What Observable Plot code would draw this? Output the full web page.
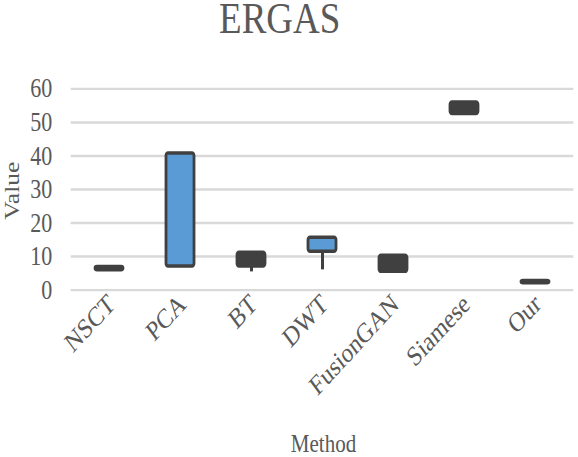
<!DOCTYPE html>
<html><head><meta charset="utf-8">
<script src="https://cdn.jsdelivr.net/npm/d3@7"></script>
<script src="https://cdn.jsdelivr.net/npm/@observablehq/plot@0.6"></script>
<style>
html,body{margin:0;padding:0;background:#fff;overflow:hidden}
#chart{width:578px;height:457px;overflow:hidden}
#chart svg{transform-origin:0 0;transform:scaleY(1.2187);display:block}
</style></head><body><div id="chart"></div>
<script>
const methods = ["NSCT","PCA","BT","DWT","FusionGAN","Siamese","Our"];
const openVals  = [6.9, 7.0, 11.1, 11.4, 10.2, 55.9, 2.7];
const closeVals = [5.9, 40.7, 7.0, 15.6, 5.4, 52.5, 2.0];
const highVals  = [6.9, 40.7, 11.1, 15.6, 10.2, 55.9, 2.7];
const lowVals   = [5.9, 7.0, 5.4, 6.0, 5.4, 52.5, 2.0];
const yTicks = [0, 10, 20, 30, 40, 50, 60];
const titleText = "ERGAS", xLabel = "Method", yLabel = "Value";

const data = methods.map((m, i) => ({method: m, open: openVals[i], close: closeVals[i], high: highVals[i], low: lowVals[i]}));
const up = data.filter(d => d.close >= d.open);
const down = data.filter(d => d.close < d.open);

const font = "'Liberation Serif','Times New Roman',serif";
const chart = Plot.plot({
  width: 578, height: 375,
  marginLeft: 70.7, marginRight: 4.7, marginTop: 72.45, marginBottom: 137.45,
  style: {fontFamily: font, color: "#595959", background: "#fff", overflow: "visible"},
  x: {domain: methods, paddingInner: 0.607, paddingOuter: 0.3035},
  y: {domain: [0, 60]},
  marks: [
    Plot.ruleY(yTicks, {stroke: "#d9d9d9", strokeWidth: 2}),
    Plot.ruleX(data, {x: "method", y1: "low", y2: "high", stroke: "#404040", strokeWidth: 3}),
    Plot.barY(up, {x: "method", y1: "open", y2: "close", fill: "#5b9bd5", stroke: "#404040", strokeWidth: 2.8, rx: 2}),
    Plot.barY(down, {x: "method", y1: "open", y2: "close", fill: "#404040", stroke: "#404040", strokeWidth: 2.8, rx: 2}),
    Plot.axisY(yTicks, {tickSize: 0, tickPadding: 19, label: null, fontSize: 22, fill: "#595959"}),
    Plot.axisX({tickSize: 0, tickRotate: -41.7, tickPadding: 8, dx: 2, label: null, fontSize: 22.7, fill: "#595959"}),
    Plot.text([titleText], {frameAnchor: "top-left", dx: 279.2 - 70.7, dy: 26.8 - 72.45, textAnchor: "middle", lineAnchor: "bottom", fontSize: 37, fill: "#595959"}),
    Plot.text([yLabel], {frameAnchor: "left", dx: 12 - 70.7, dy: 1, rotate: -90, textAnchor: "middle", lineAnchor: "middle", fontSize: 21, fill: "#595959"}),
    Plot.text([xLabel], {frameAnchor: "bottom", dx: 1, dy: 133, textAnchor: "middle", lineAnchor: "bottom", fontSize: 21, fill: "#595959"})
  ]
});
document.getElementById("chart").appendChild(chart);
</script></body></html>
